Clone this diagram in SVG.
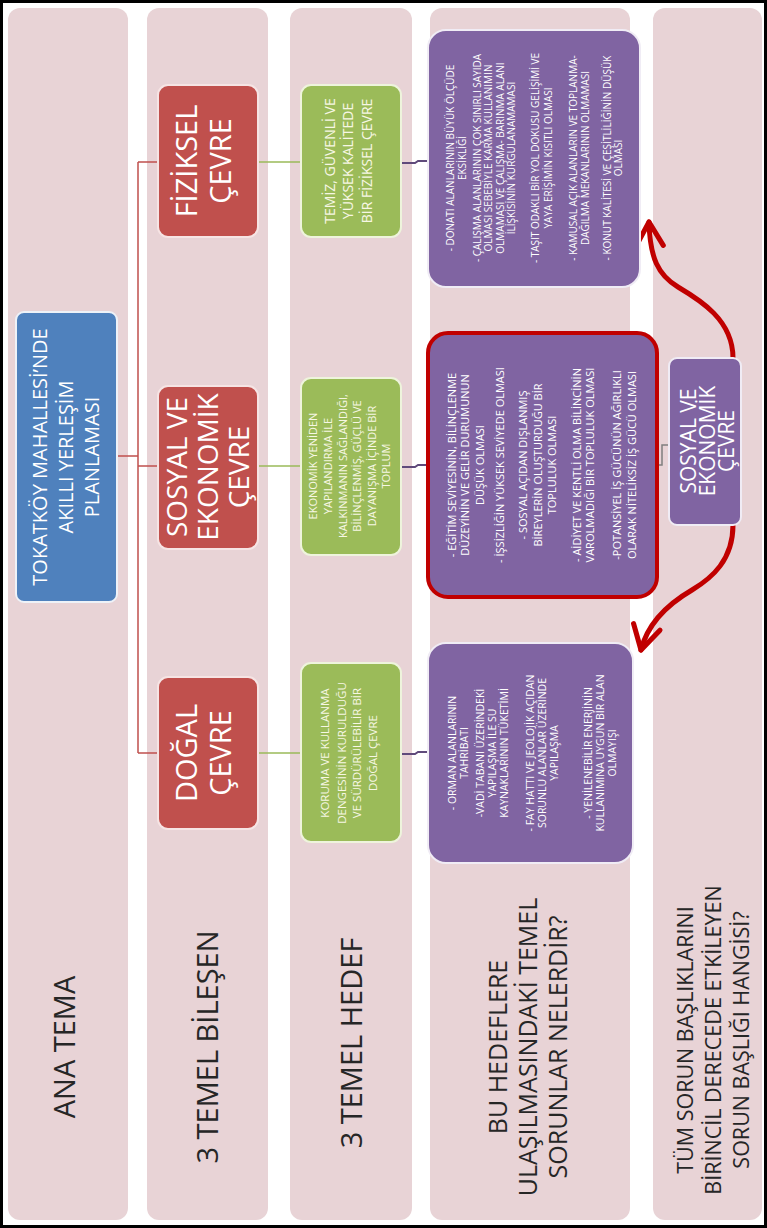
<svg xmlns="http://www.w3.org/2000/svg" width="767" height="1228" viewBox="0 0 767 1228">
<defs>
<style>
.col{fill:#e8d3d6}
.t{font-family:"Open Sans","Liberation Sans",sans-serif;text-anchor:middle}
.hd{fill:#262626}
.wt{fill:#ffffff}
.gt{fill:#f7f7e4}
.blue{fill:#4f81bd;stroke:#eef2f8;stroke-width:2}
.red{fill:#c0504d;stroke:#f6e4e4;stroke-width:2}
.green{fill:#9bbb59;stroke:#eef4dc;stroke-width:2}
.purple{fill:#8064a2;stroke:#f0ecf5;stroke-width:2}
.tree{fill:none;stroke:#c0504d;stroke-width:1.5}
.gl{fill:none;stroke:#9bbb59;stroke-width:1.5}
.pl{fill:none;stroke:#5f4a7b;stroke-width:2}
.arr{fill:none;stroke:#c00000;stroke-width:5;stroke-linecap:round}
</style>
<marker id="ah" viewBox="0 0 20 20" refX="17" refY="10" markerWidth="34" markerHeight="34" markerUnits="userSpaceOnUse" orient="auto">
<path d="M3,2 L17,10 L3,18" fill="none" stroke="#c00000" stroke-width="3" stroke-linecap="round" stroke-linejoin="round"/>
</marker>
</defs>
<rect x="0" y="0" width="767" height="1228" fill="#ffffff"/>
<g id="columns">
<rect class="col" x="8" y="8" width="120" height="1212" rx="12"/>
<rect class="col" x="147" y="8" width="121" height="1212" rx="12"/>
<rect class="col" x="290" y="8" width="122" height="1212" rx="12"/>
<rect class="col" x="430" y="8" width="200" height="1212" rx="12"/>
<rect class="col" x="653" y="8" width="109" height="1212" rx="12"/>
</g>
<g id="headers" class="t hd">
<text font-size="29" transform="translate(0,1047) rotate(-90)"><tspan x="0" y="75">ANA TEMA</tspan></text>
<text font-size="29" transform="translate(0,1047) rotate(-90)"><tspan x="0" y="218">3 TEMEL BİLEŞEN</tspan></text>
<text font-size="29" transform="translate(0,1043) rotate(-90)"><tspan x="0" y="362">3 TEMEL HEDEF</tspan></text>
<text font-size="25" transform="translate(0,1047) rotate(-90)"><tspan x="0" y="507">BU HEDEFLERE</tspan><tspan x="0" y="537">ULAŞILMASINDAKİ TEMEL</tspan><tspan x="0" y="567">SORUNLAR NELERDİR?</tspan></text>
<text font-size="21.5" transform="translate(0,1040) rotate(-90)"><tspan x="0" y="693">TÜM SORUN BAŞLIKLARINI</tspan><tspan x="0" y="721">BİRİNCİL DERECEDE ETKİLEYEN</tspan><tspan x="0" y="749">SORUN BAŞLIĞI HANGİSİ?</tspan></text>
</g>
<g id="connectors">
<path class="tree" d="M117,456 H138 M138,162 V753 M138,162 H158 M138,466 H158 M138,753 H158"/>
<path class="gl" d="M258,162 H301 M258,466 H301 M258,753 H301"/>
<path class="pl" d="M401,163 H415 L418,161 H428 M401,467 H415 L418,465 H427 M401,754 H415 L418,752 H428"/>
<path d="M657,465 H662 V445 H669" fill="none" stroke="#7f7f7f" stroke-width="1.5"/>
<path class="arr" d="M733,358 C733,320 700,300 678,287 C658,275 650,258 649,222" marker-end="url(#ah)"/>
<path class="arr" d="M733,525 C733,560 712,578 692,590 C668,604 648,622 641,650" marker-end="url(#ah)"/>
</g>
<g id="node-ana">
<rect class="blue" x="16" y="312" width="101" height="290" rx="8"/>
<text class="t wt" font-size="20" transform="translate(0,457) rotate(-90)"><tspan x="0" y="47">TOKATKÖY MAHALLESİ’NDE</tspan><tspan x="0" y="73">AKILLI YERLEŞİM</tspan><tspan x="0" y="99">PLANLAMASI</tspan></text>
</g>
<g id="node-fiziksel">
<rect class="red" x="158" y="85" width="100" height="152" rx="10"/>
<text class="t wt" font-size="29" transform="translate(0,161) rotate(-90)"><tspan x="0" y="197">FİZİKSEL</tspan><tspan x="0" y="231">ÇEVRE</tspan></text>
</g>
<g id="node-sosyal">
<rect class="red" x="158" y="386" width="100" height="163" rx="10"/>
<text class="t wt" font-size="28" transform="translate(0,467) rotate(-90)"><tspan x="0" y="187">SOSYAL VE</tspan><tspan x="0" y="218">EKONOMİK</tspan><tspan x="0" y="249">ÇEVRE</tspan></text>
</g>
<g id="node-dogal">
<rect class="red" x="158" y="677" width="100" height="152" rx="10"/>
<text class="t wt" font-size="29" transform="translate(0,753) rotate(-90)"><tspan x="0" y="197">DOĞAL</tspan><tspan x="0" y="231">ÇEVRE</tspan></text>
</g>
<g id="goal-fiziksel">
<rect class="green" x="301" y="85" width="100" height="152" rx="10"/>
<text class="t gt" font-size="14" transform="translate(0,161) rotate(-90)"><tspan x="0" y="335">TEMİZ, GÜVENLİ VE</tspan><tspan x="0" y="353">YÜKSEK KALİTEDE</tspan><tspan x="0" y="372">BİR FİZİKSEL ÇEVRE</tspan></text>
</g>
<g id="goal-sosyal">
<rect class="green" x="301" y="378" width="100" height="177" rx="10"/>
<text class="t gt" font-size="11" transform="translate(0,466) rotate(-90)"><tspan x="0" y="317">EKONOMİK YENİDEN</tspan><tspan x="0" y="332">YAPILANDIRMA İLE</tspan><tspan x="0" y="347">KALKINMANIN SAĞLANDIĞI,</tspan><tspan x="0" y="361">BİLİNÇLENMİŞ, GÜÇLÜ VE</tspan><tspan x="0" y="376">DAYANIŞMA İÇİNDE BİR</tspan><tspan x="0" y="390">TOPLUM</tspan></text>
</g>
<g id="goal-dogal">
<rect class="green" x="301" y="663" width="100" height="179" rx="10"/>
<text class="t gt" font-size="11.5" transform="translate(0,753) rotate(-90)"><tspan x="0" y="329">KORUMA VE KULLANMA</tspan><tspan x="0" y="346">DENGESİNİN KURULDUĞU</tspan><tspan x="0" y="361">VE SÜRDÜRÜLEBİLİR BİR</tspan><tspan x="0" y="377">DOĞAL ÇEVRE</tspan></text>
</g>
<g id="problems-fiziksel">
<rect class="purple" x="428" y="30" width="212" height="257" rx="18"/>
<text class="t wt" font-size="10" transform="translate(0,158) rotate(-90)"><tspan x="0" y="454">- DONATI ALANLARININ BÜYÜK ÖLÇÜDE</tspan><tspan x="0" y="466">EKSİKLİĞİ</tspan><tspan x="0" y="481">- ÇALIŞMA ALANLARININ ÇOK SINIRLI SAYIDA</tspan><tspan x="0" y="492">OLMASI SEBEBİYLE KARMA KULLANIMIN</tspan><tspan x="0" y="504">OLMAMASI VE ÇALIŞMA- BARINMA ALANI</tspan><tspan x="0" y="515">İLİŞKİSİNİN KURGULANAMAMASI</tspan><tspan x="0" y="539">- TAŞIT ODAKLI BİR YOL DOKUSU GELİŞİMİ VE</tspan><tspan x="0" y="552">YAYA ERİŞİMİN KISITLI OLMASI</tspan><tspan x="0" y="577">- KAMUSAL AÇIK ALANLARIN VE TOPLANMA-</tspan><tspan x="0" y="589">DAĞILMA MEKANLARININ OLMAMASI</tspan><tspan x="0" y="611">- KONUT KALİTESİ VE ÇEŞİTLİLİĞİNİN DÜŞÜK</tspan><tspan x="0" y="622">OLMASI</tspan></text>
</g>
<g id="problems-sosyal">
<rect x="428" y="333" width="229" height="264" rx="20" fill="#8064a2" stroke="#c00000" stroke-width="4"/>
<text class="t wt" font-size="11" transform="translate(0,465) rotate(-90)"><tspan x="0" y="456">- EĞİTİM SEVİYESİNİN, BİLİNÇLENME</tspan><tspan x="0" y="469">DÜZEYİNİN VE GELİR DURUMUNUN</tspan><tspan x="0" y="484">DÜŞÜK OLMASI</tspan><tspan x="0" y="504">- İŞSİZLİĞİN YÜKSEK SEVİYEDE OLMASI</tspan><tspan x="0" y="527">- SOSYAL AÇIDAN DIŞLANMIŞ</tspan><tspan x="0" y="542">BİREYLERİN OLUŞTURDUĞU BİR</tspan><tspan x="0" y="556">TOPLULUK OLMASI</tspan><tspan x="0" y="581">- AİDİYET VE KENTLİ OLMA BİLİNCİNİN</tspan><tspan x="0" y="594">VAROLMADIĞI BİR TOPLULUK OLMASI</tspan><tspan x="0" y="621">-POTANSİYEL İŞ GÜCÜNÜN AĞIRLIKLI</tspan><tspan x="0" y="636">OLARAK NİTELİKSİZ İŞ GÜCÜ OLMASI</tspan></text>
</g>
<g id="problems-dogal">
<rect class="purple" x="428" y="643" width="205" height="220" rx="18"/>
<text class="t wt" font-size="10.5" transform="translate(0,753) rotate(-90)"><tspan x="0" y="456">- ORMAN ALANLARININ</tspan><tspan x="0" y="468">TAHRİBATI</tspan><tspan x="0" y="484">-VADİ TABANI ÜZERİNDEKİ</tspan><tspan x="0" y="496">YAPILAŞMA İLE SU</tspan><tspan x="0" y="508">KAYNAKLARININ TÜKETİMİ</tspan><tspan x="0" y="534">- FAY HATTI VE JEOLOJİK AÇIDAN</tspan><tspan x="0" y="546">SORUNLU ALANLAR ÜZERİNDE</tspan><tspan x="0" y="558">YAPILAŞMA</tspan><tspan x="0" y="592">- YENİLENEBİLİR ENERJİNİN</tspan><tspan x="0" y="604">KULLANIMINA UYGUN BİR ALAN</tspan><tspan x="0" y="616">OLMAYIŞI</tspan></text>
</g>
<g id="node-key-problem">
<rect class="purple" x="669" y="358" width="72" height="167" rx="8"/>
<text class="t wt" font-size="21" transform="translate(0,441) rotate(-90)"><tspan x="0" y="696">SOSYAL VE</tspan><tspan x="0" y="715">EKONOMİK</tspan><tspan x="0" y="734">ÇEVRE</tspan></text>
</g>
<rect x="1.5" y="1.5" width="764" height="1225" fill="none" stroke="#000000" stroke-width="3"/>
</svg>
